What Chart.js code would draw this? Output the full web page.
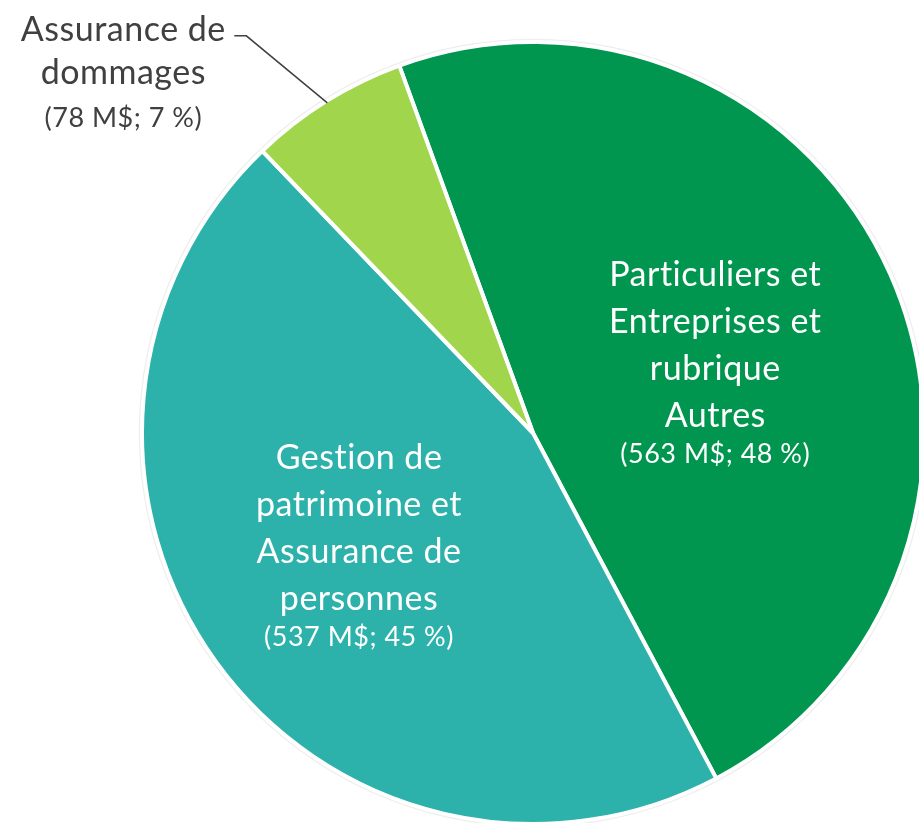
<!DOCTYPE html>
<html>
<head>
<meta charset="utf-8">
<script src="https://cdn.jsdelivr.net/npm/chart.js@4.4.1/dist/chart.umd.min.js"></script>
<style>
  html, body { margin: 0; padding: 0; background: #fff; }
</style>
</head>
<body>
<canvas id="pie" width="919" height="823"></canvas>
<script>
// données (M$ et %)
const categories = [
  'Particuliers et Entreprises et rubrique Autres',
  'Gestion de patrimoine et Assurance de personnes',
  'Assurance de dommages'
];
const amounts = [563, 537, 78];
const shares = [48, 45, 7];
const labelLines = [
  ['Particuliers et', 'Entreprises et', 'rubrique', 'Autres'],
  ['Gestion de', 'patrimoine et', 'Assurance de', 'personnes'],
  ['Assurance de', 'dommages']
];
const colors = ['#00964F', '#2CB1AB', '#A1D54B'];

const FONT = 'Lato, "Open Sans", sans-serif';
const BIG = 34, SMALL = 27;

function amountText(i) {
  return '(' + amounts[i] + ' M$; ' + shares[i] + ' %)';
}

// anneau gris très pâle autour du camembert
const ringPlugin = {
  id: 'ring',
  beforeDatasetsDraw(chart) {
    const arc = chart.getDatasetMeta(0).data[0];
    if (!arc) return;
    const ctx = chart.ctx;
    ctx.save();
    ctx.beginPath();
    ctx.arc(arc.x, arc.y, arc.outerRadius + 2, 0, Math.PI * 2);
    ctx.strokeStyle = '#eeeeee';
    ctx.lineWidth = 2.5;
    ctx.stroke();
    ctx.restore();
  }
};

// étiquettes
const labelPlugin = {
  id: 'labels',
  afterDatasetsDraw(chart) {
    const ctx = chart.ctx;
    const arcs = chart.getDatasetMeta(0).data;
    ctx.save();
    ctx.textAlign = 'center';
    ctx.textBaseline = 'alphabetic';
    ctx.letterSpacing = '0.5px'; // évite aussi les ligatures « ti »

    // étiquettes intérieures : [fraction du rayon, décalage d'angle en degrés]
    const inside = [[0.496, 4], [0.536, 2]];
    inside.forEach(([frac, nudge], i) => {
      const a = arcs[i];
      const mid = (a.startAngle + a.endAngle) / 2 + nudge * Math.PI / 180;
      const cx = a.x + Math.cos(mid) * a.outerRadius * frac;
      const cy = a.y + Math.sin(mid) * a.outerRadius * frac;
      ctx.fillStyle = '#ffffff';
      ctx.font = BIG + 'px ' + FONT;
      let y = cy - 81;
      labelLines[i].forEach(line => {
        ctx.fillText(line, cx, y);
        y += 47;
      });
      ctx.font = SMALL + 'px ' + FONT;
      ctx.fillText(amountText(i), cx, y - 11);
    });

    // étiquette extérieure avec ligne de rappel
    const a = arcs[2];
    const mid = (a.startAngle + a.endAngle) / 2;
    const px = a.x + Math.cos(mid) * (a.outerRadius - 2);
    const py = a.y + Math.sin(mid) * (a.outerRadius - 2);
    const ex = px - 81, ey = py - 67;
    ctx.strokeStyle = '#404040';
    ctx.lineWidth = 1.5;
    ctx.beginPath();
    ctx.moveTo(px, py);
    ctx.lineTo(ex, ey);
    ctx.lineTo(ex - 12, ey);
    ctx.stroke();

    const tx = ex - 123;
    ctx.fillStyle = '#404040';
    ctx.font = BIG + 'px ' + FONT;
    ctx.fillText(labelLines[2][0], tx, ey + 5);
    ctx.fillText(labelLines[2][1], tx, ey + 48);
    ctx.font = SMALL + 'px ' + FONT;
    ctx.fillText(amountText(2), tx, ey + 91);
    ctx.restore();
  }
};

new Chart(document.getElementById('pie').getContext('2d'), {
  type: 'pie',
  data: {
    labels: categories,
    datasets: [{
      data: amounts,
      backgroundColor: colors,
      borderColor: '#ffffff',
      borderWidth: 4,
      clip: false
    }]
  },
  options: {
    responsive: false,
    animation: false,
    rotation: -20,
    radius: 391,
    layout: { padding: { left: 147, right: 0, top: 43, bottom: 0 } },
    plugins: {
      legend: { display: false },
      tooltip: { enabled: false }
    }
  },
  plugins: [ringPlugin, labelPlugin]
});
</script>
</body>
</html>
